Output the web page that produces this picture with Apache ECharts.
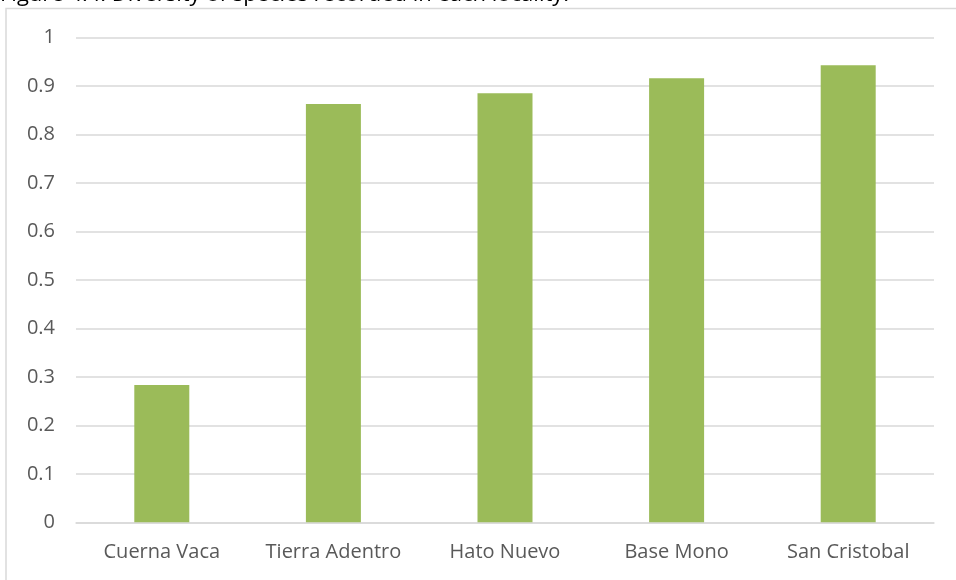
<!DOCTYPE html>
<html>
<head>
<meta charset="utf-8">
<script src="https://cdn.jsdelivr.net/npm/echarts@6/dist/echarts.min.js"></script>
<style>
  html, body { margin: 0; padding: 0; background: #fff; }
  #chart { width: 956px; height: 580px; }
</style>
</head>
<body>
<div id="chart"></div>
<script>
// Species diversity index per locality
const localities = ['Cuerna Vaca', 'Tierra Adentro', 'Hato Nuevo', 'Base Mono', 'San Cristobal'];
const diversity = [0.283, 0.863, 0.885, 0.916, 0.943];
const yTicks = { min: 0, max: 1, interval: 0.1 };
const caption = 'Figure 4.4: Diversity of species recorded in each locality.';

const font = '"Open Sans", "Liberation Sans", sans-serif';
const chart = echarts.init(document.getElementById('chart'), null, { renderer: 'canvas' });

chart.setOption({
  animation: false,
  backgroundColor: '#ffffff',
  graphic: [
    {
      type: 'rect',
      shape: { x: 6, y: 8.5, width: 1000, height: 700 },
      style: { fill: 'none', stroke: '#d9d9d9', lineWidth: 1.5 },
      silent: true
    },
    {
      type: 'text',
      left: 0,
      top: -16,
      style: {
        text: caption,
        font: '22px ' + font,
        fill: '#000000'
      },
      silent: true
    }
  ],
  grid: { left: 76, right: 22, top: 37.5, bottom: 57.7, containLabel: false },
  xAxis: {
    type: 'category',
    data: localities,
    axisLine: { show: true, lineStyle: { color: '#d9d9d9', width: 1.5 } },
    axisTick: { show: false },
    axisLabel: { color: '#595959', fontFamily: font, fontSize: 20, margin: 20, interval: 0 }
  },
  yAxis: {
    type: 'value',
    min: yTicks.min,
    max: yTicks.max,
    interval: yTicks.interval,
    axisLine: { show: false },
    axisTick: { show: false },
    splitLine: { lineStyle: { color: '#d9d9d9', width: 1.5 } },
    axisLabel: {
      color: '#595959', fontFamily: font, fontSize: 20, margin: 21,
      formatter: v => String(Math.round(v * 10) / 10)
    }
  },
  series: [{
    type: 'bar',
    data: diversity,
    barWidth: 55,
    itemStyle: { color: '#9bbb59' }
  }]
});
</script>
</body>
</html>
